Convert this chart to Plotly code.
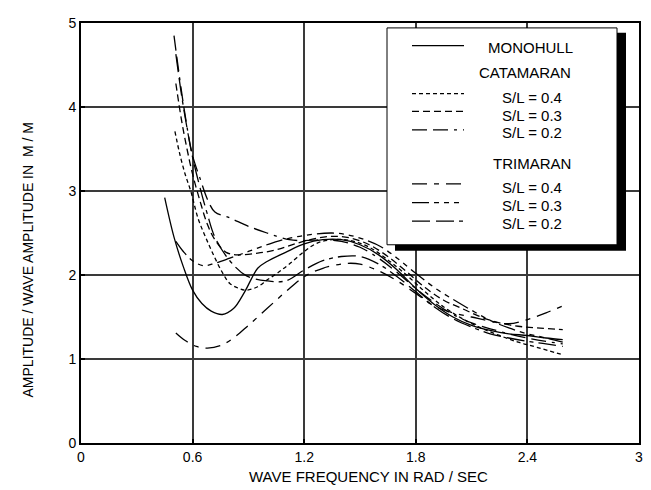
import plotly.graph_objects as go

# ---------------- data ----------------
mono_f = [0.45,0.5,0.55,0.6,0.65,0.7,0.76,0.82,0.88,0.95,1.0,1.1,1.2,1.3,1.4,1.5,1.6,1.7,1.8,1.9,2.0,2.1,2.2,2.3,2.4,2.5,2.59]
mono_a = [2.92,2.45,2.1,1.82,1.66,1.57,1.53,1.6,1.8,2.08,2.16,2.27,2.37,2.42,2.42,2.36,2.24,2.06,1.84,1.65,1.5,1.4,1.34,1.3,1.28,1.25,1.23]

cat04_f = [0.505,0.53,0.56,0.59,0.63,0.67,0.71,0.76,0.8,0.85,0.89,0.95,1.0,1.06,1.12,1.2,1.27,1.35,1.45,1.55,1.65,1.75,1.85,1.95,2.05,2.15,2.25,2.35,2.45,2.59]
cat04_a = [3.71,3.45,3.2,3.0,2.67,2.45,2.25,2.03,1.9,1.84,1.82,1.86,1.94,2.03,2.13,2.28,2.38,2.42,2.41,2.33,2.18,2.0,1.8,1.62,1.48,1.37,1.28,1.2,1.14,1.05]

cat03_f = [0.51,0.54,0.57,0.6,0.64,0.68,0.72,0.78,0.85,0.95,1.05,1.15,1.25,1.35,1.45,1.55,1.65,1.75,1.85,1.95,2.05,2.15,2.25,2.35,2.45,2.59]
cat03_a = [4.28,3.85,3.5,3.2,2.88,2.6,2.42,2.27,2.24,2.26,2.3,2.37,2.43,2.46,2.44,2.36,2.22,2.04,1.85,1.7,1.6,1.5,1.43,1.39,1.37,1.35]

cat02_f = [0.5,0.53,0.56,0.6,0.64,0.68,0.72,0.8,0.9,1.0,1.12,1.2,1.3,1.4,1.5,1.6,1.7,1.8,1.9,2.0,2.1,2.2,2.3,2.4,2.5,2.59]
cat02_a = [4.85,4.35,3.9,3.42,3.15,2.9,2.75,2.68,2.58,2.5,2.42,2.41,2.42,2.4,2.33,2.2,2.03,1.84,1.67,1.53,1.43,1.36,1.3,1.25,1.21,1.18]

tri04_f = [0.51,0.56,0.62,0.68,0.75,0.82,0.9,1.0,1.1,1.2,1.3,1.4,1.45,1.5,1.6,1.7,1.8,1.9,2.0,2.1,2.2,2.3,2.4,2.5,2.6]
tri04_a = [1.31,1.22,1.15,1.13,1.16,1.25,1.4,1.6,1.8,1.98,2.08,2.13,2.14,2.13,2.05,1.93,1.78,1.63,1.55,1.5,1.45,1.42,1.47,1.55,1.64]

tri03_f = [0.51,0.55,0.6,0.66,0.72,0.8,0.9,1.0,1.07,1.2,1.35,1.45,1.55,1.61,1.7,1.8,1.9,2.0,2.1,2.2,2.3,2.4,2.5,2.59]
tri03_a = [2.4,2.28,2.17,2.11,2.14,2.2,2.28,2.36,2.41,2.47,2.5,2.47,2.4,2.34,2.2,2.02,1.85,1.71,1.58,1.46,1.37,1.3,1.25,1.2]

tri02_f = [0.51,0.54,0.57,0.6,0.64,0.68,0.72,0.8,0.89,1.0,1.1,1.2,1.3,1.4,1.5,1.6,1.7,1.8,1.9,2.0,2.1,2.2,2.3,2.4,2.5,2.59]
tri02_a = [4.63,4.15,3.75,3.4,3.04,2.72,2.45,2.17,1.99,1.93,1.93,2.06,2.17,2.22,2.22,2.13,1.98,1.8,1.62,1.48,1.38,1.3,1.25,1.21,1.18,1.15]

x_ticks = [0, 0.6, 1.2, 1.8, 2.4, 3]
x_tick_labels = ["0", "0.6", "1.2", "1.8", "2.4", "3"]
y_ticks = [0, 1, 2, 3, 4, 5]
y_tick_labels = ["0", "1", "2", "3", "4", "5"]

series = [
    ("MONOHULL", mono_f, mono_a, "solid"),
    ("CAT S/L = 0.4", cat04_f, cat04_a, "4px,3px"),
    ("CAT S/L = 0.3", cat03_f, cat03_a, "7px,4px"),
    ("CAT S/L = 0.2", cat02_f, cat02_a, "15px,6px,15px,6px,3px,6px"),
    ("TRI S/L = 0.4", tri04_f, tri04_a, "15px,7px,5px,7px"),
    ("TRI S/L = 0.3", tri03_f, tri03_a, "17px,5px,5px,5px,5px,5px,5px,5px"),
    ("TRI S/L = 0.2", tri02_f, tri02_a, "18px,6px,18px,5px,4px,5px"),
]

FONT = "Liberation Sans, Arial, sans-serif"

fig = go.Figure()
for name, fx, fa, dash in series:
    fig.add_trace(go.Scatter(
        x=fx, y=fa, mode="lines", name=name, showlegend=False,
        line=dict(color="black", width=1.3, dash=dash, shape="spline", smoothing=1.0),
        hoverinfo="skip"))

# ---------------- geometry (page has an 8px body margin) ----------------
OFF = 8
W, H = 643, 482
L, T = 81 - OFF, 15 - OFF
R = W - (639 - OFF)
B = H - (443 - OFF)
pw, ph = W - L - R, H - T - B

def px(x):
    return (x - OFF - L) / pw

def py(y):
    return (H - B - (y - OFF)) / ph

shapes = []
# legend shadow
shapes.append(dict(type="rect", xref="paper", yref="paper",
                   x0=px(395), x1=px(626), y0=py(247), y1=py(25),
                   fillcolor="black", line=dict(width=0), layer="above"))
# legend box
shapes.append(dict(type="rect", xref="paper", yref="paper",
                   x0=px(387), x1=px(617), y0=py(241), y1=py(20),
                   fillcolor="white", line=dict(color="black", width=1), layer="above"))

legend_rows = [
    (38, "solid", "MONOHULL", 40, 530),
    (87, series[1][3], "S/L = 0.4", 91, 532),
    (105, series[2][3], "S/L = 0.3", 109, 532),
    (124, series[3][3], "S/L = 0.2", 127, 532),
    (179, series[4][3], "S/L = 0.4", 183, 532),
    (198, series[5][3], "S/L = 0.3", 201, 532),
    (217, series[6][3], "S/L = 0.2", 219, 532),
]
annotations = []
for ly, dash, text, ty, tx in legend_rows:
    shapes.append(dict(type="line", xref="paper", yref="paper",
                       x0=px(412), x1=px(464), y0=py(ly), y1=py(ly),
                       line=dict(color="black", width=1.2, dash=dash), layer="above"))
    annotations.append(dict(x=px(tx), y=py(ty), xref="paper", yref="paper",
                            text=text, showarrow=False,
                            font=dict(family=FONT, size=15, color="black"),
                            xanchor="center", yanchor="middle"))
for text, ty, tx in [("CATAMARAN", 65, 525), ("TRIMARAN", 158, 532)]:
    annotations.append(dict(x=px(tx), y=py(ty), xref="paper", yref="paper",
                            text=text, showarrow=False,
                            font=dict(family=FONT, size=15, color="black"),
                            xanchor="center", yanchor="middle"))

# axis titles
annotations.append(dict(x=px(368), y=py(477), xref="paper", yref="paper",
                        text="WAVE FREQUENCY IN RAD / SEC", showarrow=False,
                        font=dict(family=FONT, size=15, color="black"),
                        xanchor="center", yanchor="middle"))
annotations.append(dict(x=px(28), y=py(257), xref="paper", yref="paper",
                        text="AMPLITUDE / WAVE AMPLITUDE IN&nbsp;&nbsp;M / M", showarrow=False,
                        textangle=-90,
                        font=dict(family=FONT, size=14, color="black"),
                        xanchor="center", yanchor="middle"))

fig.update_layout(
    width=W, height=H,
    margin=dict(l=L, r=R, t=T, b=B),
    paper_bgcolor="white", plot_bgcolor="white",
    font=dict(family=FONT, size=14, color="black"),
    shapes=shapes, annotations=annotations,
    showlegend=False,
)
fig.update_xaxes(range=[0, 3], tickvals=x_ticks, ticktext=x_tick_labels,
                 showgrid=True, gridcolor="#3a3a3a", gridwidth=1.5,
                 showline=True, linecolor="black", linewidth=2, mirror=True,
                 ticks="inside", ticklen=4, tickwidth=2, tickcolor="black",
                 zeroline=False, tickfont=dict(family=FONT, size=14, color="black"))
fig.update_yaxes(range=[0, 5], tickvals=y_ticks, ticktext=y_tick_labels,
                 showgrid=True, gridcolor="#3a3a3a", gridwidth=1.5,
                 showline=True, linecolor="black", linewidth=2, mirror=True,
                 ticks="inside", ticklen=4, tickwidth=2, tickcolor="black",
                 zeroline=False, tickfont=dict(family=FONT, size=14, color="black"))

fig.write_html("out.html")
